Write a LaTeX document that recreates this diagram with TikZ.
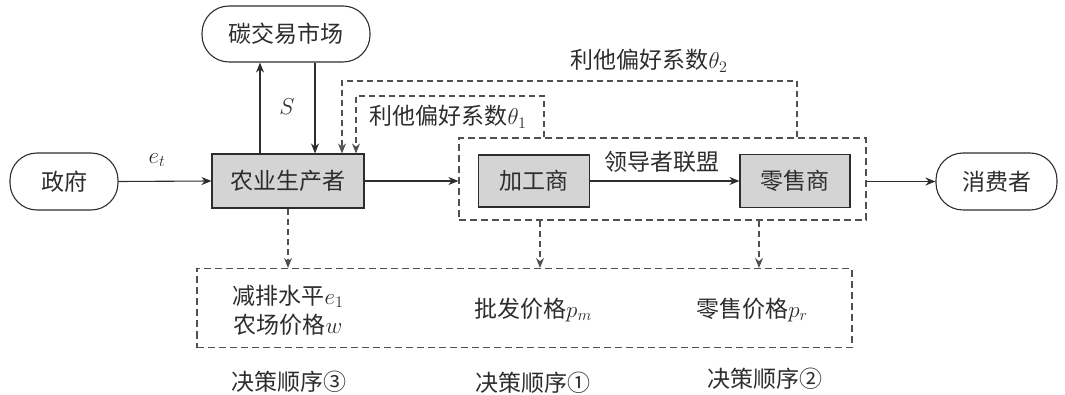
\RequirePackage{fix-cm}
\documentclass[tikz,border=0pt]{standalone}
\usepackage{fontspec}
\newfontfamily\cjk{Noto Sans CJK SC}
\usetikzlibrary{arrows.meta}
\definecolor{ln}{RGB}{45,45,45}
\definecolor{dln}{RGB}{80,80,80}
\definecolor{boxgray}{RGB}{212,212,212}
\tikzset{
  lbl/.style={font=\cjk\fontsize{23}{29}\selectfont, text=ln, inner sep=1pt},
  term/.style={lbl, draw=ln, line width=1.1pt, rounded corners=27pt, inner sep=0pt},
  gbox/.style={lbl, draw=ln, fill=boxgray, line width=1.1pt, inner sep=0pt},
  dbox/.style={draw=dln, line width=1.1pt, dash pattern=on 7pt off 4pt, inner sep=0pt},
  arr/.style={draw=ln, line width=1.1pt, -{Stealth[length=10pt,width=8pt]}},
  darr/.style={arr, draw=dln, dash pattern=on 6pt off 4pt},
}
\begin{document}
\begin{tikzpicture}[x=1pt,y=-1pt]
\useasboundingbox (0,0) rectangle (1065,395);
% main nodes
\node[term, minimum width=168pt, minimum height=56pt] (market) at (286,34) {碳交易市场};
\node[term, minimum width=108pt, minimum height=57pt] (gov) at (64,181.5) {政府};
\node[term, minimum width=121pt, minimum height=57pt] (cons) at (996.5,181.5) {消费者};
\node[gbox, minimum width=152pt, minimum height=54pt] (farmer) at (288,181) {农业生产者};
\node[dbox, minimum width=407pt, minimum height=82pt] (lead) at (662.5,179) {};
\node[gbox, minimum width=111pt, minimum height=52pt] (proc) at (534,181) {加工商};
\node[gbox, minimum width=110pt, minimum height=53pt] (ret) at (795,181) {零售商};
\node[dbox, minimum width=655pt, minimum height=79pt] (dec) at (524.5,308) {};
% labels
\node[lbl] (et) at (157,160) {$e_t$};
\node[lbl] (s) at (287,107) {$S$};
\node[lbl] (th1) at (448,117) {利他偏好系数$\theta_1$};
\node[lbl] (th2) at (649,61) {利他偏好系数$\theta_2$};
\node[lbl] (ll) at (662,162) {领导者联盟};
\node[lbl, align=center] (d1) at (288,310) {减排水平$e_1$\\农场价格$w$};
\node[lbl] (d2) at (533,310) {批发价格$p_m$};
\node[lbl] (d3) at (752,310) {零售价格$p_r$};
\node[lbl] (o3) at (289,382) {决策顺序③};
\node[lbl] (o1) at (533,383) {决策顺序①};
\node[lbl] (o2) at (765,379) {决策顺序②};
% helper coordinates
\coordinate (t2) at (797,81);
\coordinate (t1) at (544,96);
\coordinate (m1) at (540,0);
\coordinate (m2) at (759,0);
% connectors
\draw[arr] (gov.east) -- (farmer.west);
\draw[arr] ([xshift=-28pt]farmer.north) -- ([xshift=-28pt]farmer.north |- market.south);
\draw[arr] ([xshift=27pt]farmer.north |- market.south) -- ([xshift=27pt]farmer.north);
\draw[arr] (farmer.east) -- (farmer.east -| lead.west);
\draw[arr] (proc.east) -- (ret.west);
\draw[arr] (lead.east |- cons.west) -- (cons.west);
\draw[darr] (lead.north -| t2) -- (t2) -| ([xshift=54pt]farmer.north);
\draw[darr] (lead.north -| t1) -- (t1) -| ([xshift=68pt]farmer.north);
\draw[darr] (farmer.south) -- (farmer.south |- dec.north);
\draw[darr] (lead.south -| m1) -- (dec.north -| m1);
\draw[darr] (lead.south -| m2) -- (dec.north -| m2);
\end{tikzpicture}
\end{document}
